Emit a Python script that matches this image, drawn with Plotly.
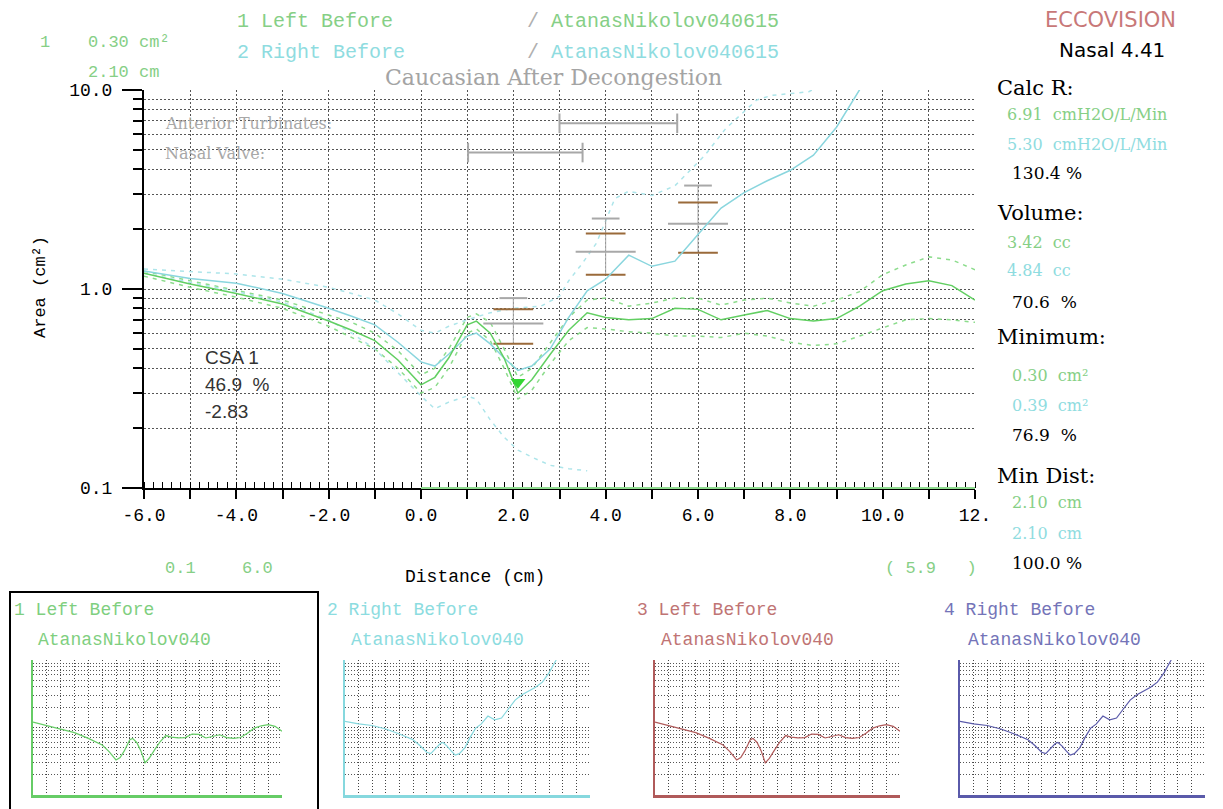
import plotly.graph_objects as go

W, H = 1223, 809

# ---------------- data ----------------
dist = [-6, -5, -4, -3, -2, -1.5, -1, -0.5, 0, 0.3, 0.6, 1.0, 1.2, 1.5, 1.8, 2.1, 2.4, 2.8,
        3.2, 3.6, 4.0, 4.5, 5.0, 5.5, 6.0, 6.5, 7.0, 7.5, 8.0, 8.5, 9.0, 9.5, 10.0, 10.5,
        11.0, 11.5, 12.0]
left_area = [1.20, 1.06, 0.95, 0.84, 0.69, 0.62, 0.55, 0.44, 0.33, 0.36, 0.45, 0.66, 0.69,
             0.60, 0.45, 0.30, 0.35, 0.47, 0.62, 0.76, 0.72, 0.70, 0.71, 0.80, 0.79, 0.70,
             0.74, 0.78, 0.71, 0.69, 0.71, 0.82, 0.98, 1.06, 1.10, 1.04, 0.88]
left_upper = [1.23, 1.10, 0.99, 0.88, 0.74, 0.68, 0.60, 0.49, 0.37, 0.40, 0.50, 0.72, 0.75,
              0.68, 0.50, 0.36, 0.40, 0.54, 0.72, 0.88, 0.90, 0.82, 0.85, 0.90, 0.90, 0.83,
              0.88, 0.90, 0.85, 0.82, 0.88, 0.97, 1.18, 1.32, 1.45, 1.40, 1.25]
left_lower = [1.16, 1.02, 0.91, 0.80, 0.65, 0.57, 0.50, 0.40, 0.30, 0.32, 0.40, 0.60, 0.63,
              0.55, 0.40, 0.28, 0.31, 0.42, 0.55, 0.64, 0.63, 0.61, 0.60, 0.58, 0.58, 0.57,
              0.60, 0.58, 0.54, 0.52, 0.53, 0.58, 0.64, 0.70, 0.71, 0.70, 0.68]

right_dist = [-6, -5, -4, -3, -2, -1.5, -1, -0.5, 0, 0.3, 0.6, 1.0, 1.2, 1.5, 1.8, 2.1, 2.4,
              2.8, 3.2, 3.6, 4.0, 4.5, 5.0, 5.5, 6.0, 6.5, 7.0, 7.5, 8.0, 8.5, 9.0, 9.5, 9.8]
right_area = [1.23, 1.13, 1.07, 0.95, 0.80, 0.73, 0.66, 0.54, 0.43, 0.41, 0.47, 0.58, 0.60,
              0.53, 0.45, 0.39, 0.41, 0.50, 0.72, 0.98, 1.12, 1.48, 1.30, 1.38, 1.88, 2.55,
              3.05, 3.50, 3.95, 4.70, 6.50, 9.90, 13.0]
right_upper_dist = [-6, -5, -4, -3, -2, -1.5, -1, -0.5, 0, 0.3, 0.6, 1.0, 1.5, 2.0, 2.6, 3.0,
                    3.2, 3.5, 3.8, 4.2, 4.5, 5.0, 5.5, 6.15, 6.4, 6.6, 7.27, 7.6, 8.0, 8.4, 8.8]
right_upper = [1.26, 1.22, 1.19, 1.12, 1.02, 0.95, 0.88, 0.75, 0.62, 0.60, 0.65, 0.70, 0.76,
               0.80, 0.82, 0.92, 1.10, 1.35, 1.70, 2.85, 3.10, 2.95, 3.30, 4.70, 5.60, 6.40,
               8.90, 9.40, 9.60, 9.80, 11.0]
right_lower_dist = [-6, -5, -4, -3, -2, -1.5, -1, -0.5, 0, 0.3, 0.6, 1.0, 1.2, 1.5, 1.8, 2.1,
                    2.4, 2.8, 3.2, 3.6]
right_lower = [1.20, 1.08, 0.97, 0.86, 0.70, 0.60, 0.50, 0.38, 0.29, 0.25, 0.27, 0.29, 0.28,
               0.22, 0.18, 0.155, 0.143, 0.13, 0.125, 0.122]

norm_dist = [2.0, 4.0, 6.0]
norm_top = [0.90, 2.26, 3.31]
norm_hi = [0.79, 1.90, 2.72]
norm_mean = [0.67, 1.54, 2.13]
norm_lo = [0.53, 1.18, 1.52]

region_names = ["Anterior Turbinates:", "Nasal Valve:"]
region_start = [3.0, 1.02]
region_end = [5.55, 3.5]
region_level = [6.8, 4.85]

min_dist = [2.1]
min_area = [0.34]

x_ticks = list(range(-6, 13))
x_ticktext = ["-6.0", "", "-4.0", "", "-2.0", "", "0.0", "", "2.0", "", "4.0", "", "6.0", "",
              "8.0", "", "10.0", "", "12."]
y_ticks = [0.1, 1, 10]
y_ticktext = ["0.1", "1.0", "10.0"]
y_minor = [0.2, 0.3, 0.4, 0.5, 0.6, 0.7, 0.8, 0.9, 2, 3, 4, 5, 6, 7, 8, 9]

panel_titles = ["1 Left Before", "2 Right Before", "3 Left Before", "4 Right Before"]
panel_names = ["AtanasNikolov040"] * 4
panel_colors = ["#7fcf7f", "#8cdce0", "#c07474", "#7474b8"]
panel_line_colors = ["#66cc66", "#86d8de", "#b05a5a", "#5a5aaa"]

# ---------------- styles ----------------
GREEN = "#62cf62"
GREEN_D = "#8cdc8c"
CYAN = "#8ad6de"
CYAN_D = "#ade5ea"
TXT_GREEN = "#86cf86"
TXT_CYAN = "#8fdce0"
MONO = "Liberation Mono"
SERIF = "DejaVu Serif"
SANS = "DejaVu Sans"
GRID = "#555555"


def px(x):
    return x / W


def py(y):
    return 1 - y / H


def hsegs(xc, vals, hw):
    xs, ys = [], []
    for x, v in zip(xc, vals):
        xs += [x - hw, x + hw, None]
        ys += [v, v, None]
    return xs, ys


fig = go.Figure()

# dashed envelopes
fig.add_trace(go.Scatter(x=dist, y=left_upper, mode="lines",
                         line=dict(color=GREEN_D, width=1.5, dash="4px,5px")))
fig.add_trace(go.Scatter(x=dist, y=left_lower, mode="lines",
                         line=dict(color=GREEN_D, width=1.5, dash="4px,5px")))
fig.add_trace(go.Scatter(x=right_upper_dist, y=right_upper, mode="lines",
                         line=dict(color=CYAN_D, width=1.5, dash="4px,5px")))
fig.add_trace(go.Scatter(x=right_lower_dist, y=right_lower, mode="lines",
                         line=dict(color=CYAN_D, width=1.5, dash="4px,5px")))

# normative bars
vx, vy = [], []
for x, lo, top in zip(norm_dist, norm_lo, norm_top):
    vx += [x, x, None]
    vy += [lo, top, None]
fig.add_trace(go.Scatter(x=vx, y=vy, mode="lines", line=dict(color="#a8a8a8", width=1)))
sx, sy = hsegs(norm_dist, norm_top, 0.3)
fig.add_trace(go.Scatter(x=sx, y=sy, mode="lines", line=dict(color="#a8a8a8", width=2)))
sx, sy = hsegs(norm_dist, norm_mean, 0.65)
fig.add_trace(go.Scatter(x=sx, y=sy, mode="lines", line=dict(color="#a8a8a8", width=2)))
sx, sy = hsegs(norm_dist, norm_hi, 0.43)
fig.add_trace(go.Scatter(x=sx, y=sy, mode="lines", line=dict(color="#9a6a3a", width=2)))
sx, sy = hsegs(norm_dist, norm_lo, 0.43)
fig.add_trace(go.Scatter(x=sx, y=sy, mode="lines", line=dict(color="#9a6a3a", width=2)))

# anatomical region bars
for s, e, lv in zip(region_start, region_end, region_level):
    fig.add_trace(go.Scatter(x=[s, e], y=[lv, lv], mode="lines+markers",
                             line=dict(color="#a8a8a8", width=2),
                             marker=dict(symbol="line-ns-open", size=14,
                                         line=dict(color="#a8a8a8", width=2))))

# main curves
fig.add_trace(go.Scatter(x=right_dist, y=right_area, mode="lines",
                         line=dict(color=CYAN, width=1.5)))
fig.add_trace(go.Scatter(x=dist, y=left_area, mode="lines",
                         line=dict(color=GREEN, width=1.5)))
fig.add_trace(go.Scatter(x=min_dist, y=min_area, mode="markers",
                         marker=dict(symbol="triangle-down", size=13, color="#33d633")))

# mini panels
mini_dom = [(33, 282), (345, 590), (655, 900), (960, 1205)]
mini_series = [(dist, left_area), (right_dist, right_area), (dist, left_area),
               (right_dist, right_area)]
for i in range(4):
    xs, ys = mini_series[i]
    fig.add_trace(go.Scatter(x=xs, y=ys, mode="lines", xaxis=f"x{i+2}", yaxis=f"y{i+2}",
                             line=dict(color=panel_line_colors[i], width=1.2)))

fig.update_traces(hoverinfo="skip")

layout = dict(
    width=W, height=H, autosize=False, margin=dict(l=0, r=0, t=0, b=0, pad=0,
                                                   autoexpand=False),
    paper_bgcolor="white", plot_bgcolor="white", showlegend=False,
    xaxis=dict(domain=[px(144), px(975)], range=[-6, 12], tickmode="array",
               tickvals=x_ticks, ticktext=x_ticktext, ticks="outside", ticklen=9,
               tickwidth=2, tickcolor="black", showline=True, linecolor="black",
               linewidth=2, showgrid=True, gridcolor=GRID, griddash="2px,2px",
               gridwidth=1, zeroline=False, automargin=False,
               tickfont=dict(family=MONO, size=18, color="black"),
               minor=dict(dtick=0.2, ticks="inside", ticklen=6, tickcolor="black",
                          tickwidth=1, showgrid=False)),
    yaxis=dict(domain=[py(488), py(90)], type="log", range=[-1, 1], tickmode="array",
               tickvals=y_ticks, ticktext=y_ticktext, ticks="outside", ticklen=20,
               tickwidth=2, tickcolor="black", showline=True, linecolor="black",
               linewidth=2, showgrid=True, gridcolor=GRID, griddash="2px,2px",
               zeroline=False, ticklabelstandoff=6, automargin=False,
               tickfont=dict(family=MONO, size=18, color="black"),
               minor=dict(tickvals=y_minor, ticks="outside", ticklen=9, tickcolor="black",
                          tickwidth=2, showgrid=True, gridcolor=GRID, griddash="2px,2px")),
)
for i, (a, b) in enumerate(mini_dom):
    layout[f"xaxis{i+2}"] = dict(domain=[px(a), px(b)], range=[-6, 12], anchor=f"y{i+2}",
                                 tickmode="array", tickvals=x_ticks, showticklabels=False,
                                 ticks="", showline=True, linecolor=panel_line_colors[i],
                                 linewidth=3, showgrid=True, gridcolor="#444",
                                 griddash="1px,2px", zeroline=False, automargin=False)
    layout[f"yaxis{i+2}"] = dict(domain=[py(795), py(660)], type="log", range=[-1, 1],
                                 anchor=f"x{i+2}", tickmode="array", tickvals=y_ticks,
                                 showticklabels=False, ticks="", showline=True,
                                 linecolor=panel_line_colors[i], linewidth=2,
                                 showgrid=True, gridcolor="#444", griddash="1px,2px",
                                 zeroline=False, automargin=False,
                                 minor=dict(tickvals=y_minor, ticks="", showgrid=True,
                                            gridcolor="#555", griddash="1px,2px"))
fig.update_layout(**layout)

# green part of the distance axis
fig.add_shape(type="line", xref="x", yref="y domain", x0=0, x1=12, y0=0, y1=0,
              line=dict(color="#8fdc8f", width=2))
# box around the active panel
fig.add_shape(type="rect", xref="paper", yref="paper", x0=px(10), x1=px(318), y0=py(815),
              y1=py(592), line=dict(color="black", width=2))

ann = []


def text(t, x, y, size, color, family, xanchor="left", angle=0):
    ann.append(dict(text=t, x=px(x), y=py(y), xref="paper", yref="paper", showarrow=False,
                    xanchor=xanchor, yanchor="middle", textangle=angle,
                    font=dict(size=size, color=color, family=family)))


NB = "\u00a0"
# header
text("1", 38, 42, 17, TXT_GREEN, MONO)
text("0.30" + NB + "cm²", 86, 42, 17, TXT_GREEN, MONO)
text("2.10" + NB + "cm", 86, 72, 17, TXT_GREEN, MONO)
text("1 Left Before", 235, 22, 20, TXT_GREEN, MONO)
text("<span style='color:#b0b0b0'>/</span>" + NB + "AtanasNikolov040615", 525, 22, 20,
     TXT_GREEN, MONO)
text("2 Right Before", 235, 52, 20, TXT_CYAN, MONO)
text("<span style='color:#b0b0b0'>/</span>" + NB + "AtanasNikolov040615", 525, 52, 20,
     TXT_CYAN, MONO)
text("Caucasian After Decongestion", 553, 78, 22, "#a4a4a4", SERIF, xanchor="center")
text(region_names[0], 163, 123, 16, "#a8a8a8", SERIF)
text(region_names[1], 163, 153, 16, "#a8a8a8", SERIF)

# CSA annotation
text("CSA 1", 203, 357, 19, "#333333", "Liberation Sans")
text("46.9" + NB + NB + "%", 203, 384, 19, "#333333", "Liberation Sans")
text("-2.83", 203, 411, 19, "#333333", "Liberation Sans")

# axis titles & footers
text("Area (cm²)", 40, 287, 17, "black", MONO, xanchor="center", angle=-90)
text("Distance (cm)", 475, 577, 18, "black", MONO, xanchor="center")
text("0.1", 163, 568, 17, TXT_GREEN, MONO)
text("6.0", 240, 568, 17, TXT_GREEN, MONO)
text("(" + NB + "5.9" + NB * 3 + ")", 883, 568, 17, TXT_GREEN, MONO)

# right column
text("ECCOVISION", 1110, 20, 21, "#c87878", SANS, xanchor="center")
text("Nasal 4.41", 1112, 50, 20, "black", SANS, xanchor="center")
right_col = [
    ("Calc R:", 995, 88, 21, "black"),
    ("6.91" + NB * 2 + "cmH2O/L/Min", 1005, 114, 16, TXT_GREEN),
    ("5.30" + NB * 2 + "cmH2O/L/Min", 1005, 144, 16, TXT_CYAN),
    ("130.4" + NB + "%", 1010, 173, 17, "black"),
    ("Volume:", 995, 213, 21, "black"),
    ("3.42" + NB * 2 + "cc", 1005, 242, 16, TXT_GREEN),
    ("4.84" + NB * 2 + "cc", 1005, 270, 16, TXT_CYAN),
    ("70.6" + NB * 2 + "%", 1010, 302, 17, "black"),
    ("Minimum:", 995, 337, 21, "black"),
    ("0.30" + NB * 2 + "cm²", 1010, 375, 16, TXT_GREEN),
    ("0.39" + NB * 2 + "cm²", 1010, 405, 16, TXT_CYAN),
    ("76.9" + NB * 2 + "%", 1010, 435, 17, "black"),
    ("Min Dist:", 995, 476, 21, "black"),
    ("2.10" + NB * 2 + "cm", 1010, 503, 16, TXT_GREEN),
    ("2.10" + NB * 2 + "cm", 1010, 533, 16, TXT_CYAN),
    ("100.0" + NB + "%", 1010, 563, 17, "black"),
]
for t, x, y, s, c in right_col:
    text(t, x, y, s, c, SERIF)

# mini panel titles
title_x = [12, 325, 635, 942]
for i in range(4):
    text(panel_titles[i], title_x[i], 610, 18, panel_colors[i], MONO)
    text(panel_names[i], title_x[i] + 24, 640, 18, panel_colors[i], MONO)

fig.update_layout(annotations=ann)

fig.write_html("out.html", config={"displayModeBar": False, "responsive": False},
               post_script="document.body.style.margin='0';document.body.style.overflow='hidden';")
